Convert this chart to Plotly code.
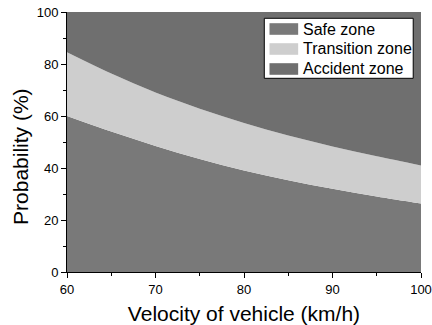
import plotly.graph_objects as go

velocity = [60, 65, 70, 75, 80, 85, 90, 95, 100]
safe_upper = [60, 54, 48.5, 43.5, 39, 35.3, 32, 29, 26.3]
transition_upper = [84.5, 76.3, 69, 62.8, 57.3, 52.5, 48.3, 44.5, 41]
accident_upper = [100] * len(velocity)
zone_names = ["Safe zone", "Transition zone", "Accident zone"]
zone_colors = ["#797979", "#cecece", "#6f6f6f"]

fig = go.Figure()
fig.add_trace(go.Scatter(x=velocity, y=safe_upper, mode="lines", line=dict(width=0, shape="spline"),
                         fill="tozeroy", fillcolor=zone_colors[0], name=zone_names[0]))
fig.add_trace(go.Scatter(x=velocity, y=transition_upper, mode="lines", line=dict(width=0, shape="spline"),
                         fill="tonexty", fillcolor=zone_colors[1], name=zone_names[1]))
fig.add_trace(go.Scatter(x=velocity, y=accident_upper, mode="lines", line=dict(width=0),
                         fill="tonexty", fillcolor=zone_colors[2], name=zone_names[2]))

font = "Liberation Sans, Arial, sans-serif"

# Legend box drawn in paper coordinates (layout decoration)
shapes = [dict(type="rect", xref="paper", yref="paper", x0=0.5573, x1=0.978, y0=0.745, y1=0.9758,
               fillcolor="white", line=dict(color="black", width=1), layer="above")]
annotations = []
row_y = [0.9346, 0.8577, 0.7808]
for name, color, yc in zip(zone_names, zone_colors, row_y):
    shapes.append(dict(type="rect", xref="paper", yref="paper", x0=0.572, x1=0.653,
                       y0=yc - 0.0223, y1=yc + 0.0223, fillcolor=color, line=dict(width=0),
                       layer="above"))
    annotations.append(dict(text=name, xref="paper", yref="paper", x=0.662, y=yc,
                            xanchor="left", yanchor="middle", showarrow=False,
                            font=dict(size=16, family=font, color="black")))
annotations.append(dict(text="Probability (%)", textangle=-90, xref="paper", yref="paper",
                        x=-0.133, y=0.446, xanchor="center", yanchor="middle", showarrow=False,
                        font=dict(size=21, family=font)))

fig.update_layout(
    width=432, height=325,
    margin=dict(l=67, r=11, t=12, b=53),
    paper_bgcolor="white", plot_bgcolor="white",
    font=dict(family=font, color="black", size=13),
    showlegend=False,
    shapes=shapes,
    annotations=annotations,
    xaxis=dict(range=[60, 100], tick0=60, dtick=10, ticks="outside", ticklen=5,
               tickcolor="black", showline=True, linecolor="black", linewidth=1,
               showgrid=False, zeroline=False, automargin=False,
               minor=dict(dtick=5, ticks="outside", ticklen=3, tickcolor="black", showgrid=False),
               title=dict(text="Velocity of vehicle (km/h)", font=dict(size=21, family=font), standoff=10),
               tickfont=dict(size=13)),
    yaxis=dict(range=[0, 100], tick0=0, dtick=20, ticks="outside", ticklen=5,
               tickcolor="black", showline=True, linecolor="black", linewidth=1,
               showgrid=False, zeroline=False, automargin=False,
               minor=dict(dtick=10, ticks="outside", ticklen=3, tickcolor="black", showgrid=False),
               tickfont=dict(size=13)),
)
fig.write_html("out.html", config={"displayModeBar": False},
               post_script="document.body.style.margin='0';document.body.style.overflow='hidden';")
